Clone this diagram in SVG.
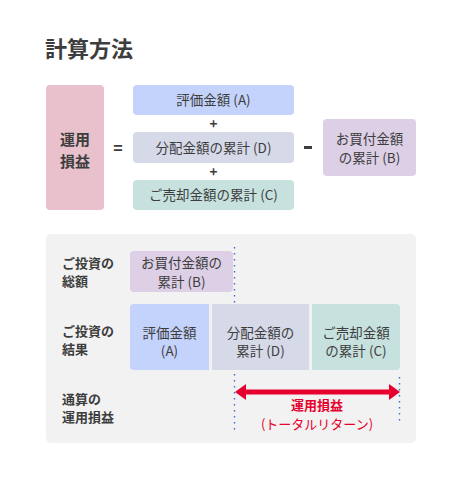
<svg xmlns="http://www.w3.org/2000/svg" width="462" height="478" viewBox="0 0 462 478">
<style>
text{font-family:"Noto Sans CJK JP","Noto Sans",sans-serif;fill:#3d3d3d;font-size:13.5px}
.c{text-anchor:middle}
.b{font-weight:bold}
.l{font-size:13px;font-weight:bold}
.r{fill:#e6002d;font-size:13px}
.dot{stroke:#3b6fd0;stroke-width:1.4;stroke-dasharray:1.4 4.6;fill:none}
</style>
<rect width="462" height="478" fill="#ffffff"/>
<text x="45" y="57" class="b" style="font-size:22px">計算方法</text>

<g id="profit">
<rect x="46" y="85" width="58" height="125" rx="4" fill="#e8c1cd"/>
<text x="75" y="144.5" class="c b" style="font-size:15px">運用</text>
<text x="75" y="167" class="c b" style="font-size:15px">損益</text>
</g>
<text x="118" y="154" class="c b" style="font-size:16px">=</text>
<g id="valA">
<rect x="133" y="85" width="161" height="30" rx="4" fill="#c4d3fb"/>
<text x="213.5" y="105" class="c">評価金額 (A)</text>
</g>
<text x="213.5" y="129" class="c b">+</text>
<g id="distD">
<rect x="133" y="132" width="161" height="31" rx="4" fill="#d5d9e8"/>
<text x="213.5" y="152.5" class="c">分配金額の累計 (D)</text>
</g>
<text x="213.5" y="177" class="c b">+</text>
<g id="sellC">
<rect x="133" y="180" width="161" height="30" rx="4" fill="#c6e1de"/>
<text x="213.5" y="200" class="c">ご売却金額の累計 (C)</text>
</g>
<rect x="304" y="146" width="8" height="3" fill="#3d3d3d"/>
<g id="buyB">
<rect x="323" y="119" width="93" height="57" rx="4" fill="#dccfe6"/>
<text x="369.5" y="143.5" class="c">お買付金額</text>
<text x="369.5" y="163" class="c">の累計 (B)</text>
</g>

<rect x="46" y="234" width="370" height="209" rx="5" fill="#f2f2f2"/>
<text x="62" y="267.5" class="l">ご投資の</text>
<text x="62" y="285.5" class="l">総額</text>
<text x="62" y="335.5" class="l">ご投資の</text>
<text x="62" y="353.5" class="l">結果</text>
<text x="62" y="403.5" class="l">通算の</text>
<text x="62" y="422" class="l">運用損益</text>

<g id="buyB2">
<rect x="130" y="251" width="103" height="41" rx="4" fill="#dccfe6"/>
<text x="181.5" y="268" class="c">お買付金額の</text>
<text x="181.5" y="286.5" class="c">累計 (B)</text>
</g>
<g id="valA2">
<path d="M134,304 H209 V370 H134 Q130,370 130,366 V308 Q130,304 134,304 Z" fill="#c4d3fb"/>
<text x="169.5" y="337.5" class="c">評価金額</text>
<text x="169.5" y="356" class="c">(A)</text>
</g>
<g id="distD2">
<rect x="212" y="304" width="97" height="66" fill="#d5d9e8"/>
<text x="260.5" y="337.5" class="c">分配金額の</text>
<text x="260.5" y="356" class="c">累計 (D)</text>
</g>
<g id="sellC2">
<path d="M312,304 H396 Q400,304 400,308 V366 Q400,370 396,370 H312 Z" fill="#c6e1de"/>
<text x="356" y="337.5" class="c">ご売却金額</text>
<text x="356" y="356" class="c">の累計 (C)</text>
</g>

<g id="connectors">
<line class="dot" x1="234.5" y1="247" x2="234.5" y2="303"/>
<line class="dot" x1="234.5" y1="374" x2="234.5" y2="430"/>
<line class="dot" x1="399.5" y1="377" x2="399.5" y2="425"/>
<path d="M235,392 L246,384 V389.5 H389 V384 L400,392 L389,400 V394.5 H246 V400 Z" fill="#e6002d"/>
</g>
<text x="317" y="410" class="c r b">運用損益</text>
<text x="317" y="428.5" class="c r">(トータルリターン)</text>
</svg>
